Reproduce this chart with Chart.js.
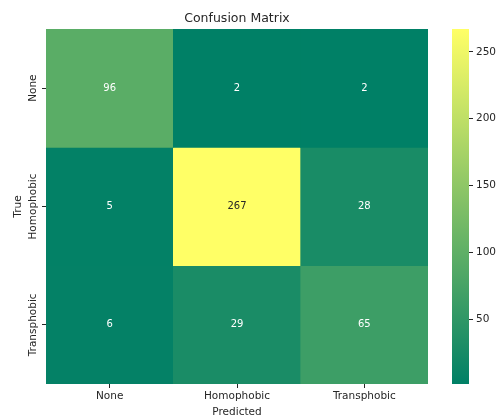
<!DOCTYPE html>
<html>
<head>
<meta charset="utf-8">
<script src="https://cdn.jsdelivr.net/npm/chart.js@4"></script>
<style>
  html, body { margin: 0; padding: 0; background: #fff; }
  #wrap { position: relative; width: 499px; height: 419px; }
  #matrix { position: absolute; left: 0; top: 0; }
  #cbar { position: absolute; left: 440px; top: 0; }
</style>
</head>
<body>
<div id="wrap">
  <canvas id="matrix" width="499" height="419"></canvas>
  <canvas id="cbar" width="59" height="419"></canvas>
</div>
<script>
// Class names for both axes
const predictedLabels = ['None', 'Homophobic', 'Transphobic'];
const trueLabels = ['None', 'Homophobic', 'Transphobic'];

// Counts per true class (rows), over predicted classes (columns)
const rowNone = [96, 2, 2];
const rowHomophobic = [5, 267, 28];
const rowTransphobic = [6, 29, 65];
const matrixRows = [rowNone, rowHomophobic, rowTransphobic];

// Colour bar range and ticks
const colorMin = 2;
const colorMax = 267;
const colorbarTicks = [50, 100, 150, 200, 250];

const FONT = 'DejaVu Sans';
const TEXT = '#262626';
const TICK_FONT = { family: FONT, size: 10.5 };
const TITLE = 'Confusion Matrix';

// "summer" colormap: green -> yellow
function summer(t) {
  t = Math.max(0, Math.min(1, t));
  return [t, 0.5 + 0.5 * t, 0.4];
}
function rgbStr(c) {
  return 'rgb(' + c.map(v => Math.round(v * 255)).join(',') + ')';
}
function cellColor(v) {
  return summer((v - colorMin) / (colorMax - colorMin));
}
function luminance(c) {
  const lin = c.map(v => v <= 0.03928 ? v / 12.92 : Math.pow((v + 0.055) / 1.055, 2.4));
  return 0.2126 * lin[0] + 0.7152 * lin[1] + 0.0722 * lin[2];
}

// One floating-bar dataset per row: each cell spans [row, row + 1]
const datasets = matrixRows.map((row, r) => ({
  label: trueLabels[r],
  data: row.map(() => [r, r + 1]),
  counts: row,
  backgroundColor: row.map(v => rgbStr(cellColor(v))),
  borderWidth: 0,
  barPercentage: 1,
  categoryPercentage: 1,
  grouped: false
}));

// Writes the count in the middle of every cell
const cellText = {
  id: 'cellText',
  afterDatasetsDraw(chart) {
    const ctx = chart.ctx;
    ctx.save();
    ctx.font = '10px "' + FONT + '"';
    ctx.textAlign = 'center';
    ctx.textBaseline = 'middle';
    chart.data.datasets.forEach((ds, di) => {
      const meta = chart.getDatasetMeta(di);
      meta.data.forEach((bar, i) => {
        const v = ds.counts[i];
        const c = cellColor(v);
        ctx.fillStyle = luminance(c) > 0.408 ? TEXT : '#ffffff';
        const cy = (bar.y + bar.base) / 2;
        ctx.fillText(String(v), bar.x, cy);
      });
    });
    ctx.restore();
  }
};

// Row labels turned to read upwards and centred on their tick, plus the title over the plot area
const extraText = {
  id: 'extraText',
  afterDraw(chart) {
    const s = chart.scales.y;
    const area = chart.chartArea;
    const ctx = chart.ctx;
    ctx.save();
    ctx.fillStyle = TEXT;
    ctx.textAlign = 'center';

    ctx.font = '12.5px "' + FONT + '"';
    ctx.textBaseline = 'alphabetic';
    ctx.fillText(TITLE, (area.left + area.right) / 2, 22);

    ctx.font = TICK_FONT.size + 'px "' + FONT + '"';
    ctx.textBaseline = 'middle';
    const x = s.right - 4 - 3.5 - TICK_FONT.size / 2;
    s.ticks.forEach((t, i) => {
      const y = s.getPixelForValue(t.value);
      ctx.save();
      ctx.translate(x, y);
      ctx.rotate(-Math.PI / 2);
      ctx.fillText(trueLabels[i], 0, 0);
      ctx.restore();
    });
    ctx.restore();
  }
};

new Chart(document.getElementById('matrix'), {
  type: 'bar',
  data: { labels: predictedLabels, datasets },
  options: {
    responsive: false,
    animation: false,
    layout: { padding: { left: 0, right: 71, top: 29, bottom: 0 } },
    plugins: {
      legend: { display: false },
      tooltip: { enabled: false },
      title: { display: false }
    },
    scales: {
      x: {
        type: 'category',
        grid: { display: true, drawOnChartArea: false, drawTicks: true, tickLength: 4, offset: false, color: TEXT },
        border: { display: false },
        ticks: { color: TEXT, font: TICK_FONT, padding: 2, maxRotation: 0, minRotation: 0 },
        title: { display: true, text: 'Predicted', color: TEXT, font: TICK_FONT, padding: { top: 2, bottom: 0 } },
        afterFit(s) { s.height = 35; }
      },
      y: {
        type: 'linear',
        reverse: true,
        min: 0,
        max: 3,
        afterBuildTicks(s) { s.ticks = trueLabels.map((_, i) => ({ value: i + 0.5 })); },
        grid: { display: true, drawOnChartArea: false, drawTicks: true, tickLength: 4, color: TEXT },
        border: { display: false },
        ticks: { color: 'rgba(0,0,0,0)', font: TICK_FONT, padding: 2, callback: (v, i) => trueLabels[i] },
        title: { display: true, text: 'True', color: TEXT, font: TICK_FONT, padding: { top: 12, bottom: 0 } },
        afterFit(s) { s.width = 46; }
      }
    }
  },
  plugins: [cellText, extraText]
});

// Colour bar: a single floating bar over the value range, filled with the colormap
new Chart(document.getElementById('cbar'), {
  type: 'bar',
  data: {
    labels: ['scale'],
    datasets: [{
      data: [[colorMin, colorMax]],
      borderWidth: 0,
      barPercentage: 1,
      categoryPercentage: 1,
      backgroundColor(context) {
        const area = context.chart.chartArea;
        if (!area) return rgbStr(summer(0));
        const g = context.chart.ctx.createLinearGradient(0, area.bottom, 0, area.top);
        for (let k = 0; k <= 10; k++) g.addColorStop(k / 10, rgbStr(summer(k / 10)));
        return g;
      }
    }]
  },
  options: {
    responsive: false,
    animation: false,
    layout: { padding: { left: 12, right: 0, top: 29, bottom: 35 } },
    plugins: { legend: { display: false }, tooltip: { enabled: false } },
    scales: {
      x: { display: false },
      y: {
        type: 'linear',
        position: 'right',
        min: colorMin,
        max: colorMax,
        afterBuildTicks(s) { s.ticks = colorbarTicks.map(v => ({ value: v })); },
        grid: { display: true, drawOnChartArea: false, drawTicks: true, tickLength: 4, color: TEXT },
        border: { display: false },
        ticks: { color: TEXT, font: TICK_FONT, padding: 3 },
        afterFit(s) { s.width = 30; }
      }
    }
  }
});
</script>
</body>
</html>
